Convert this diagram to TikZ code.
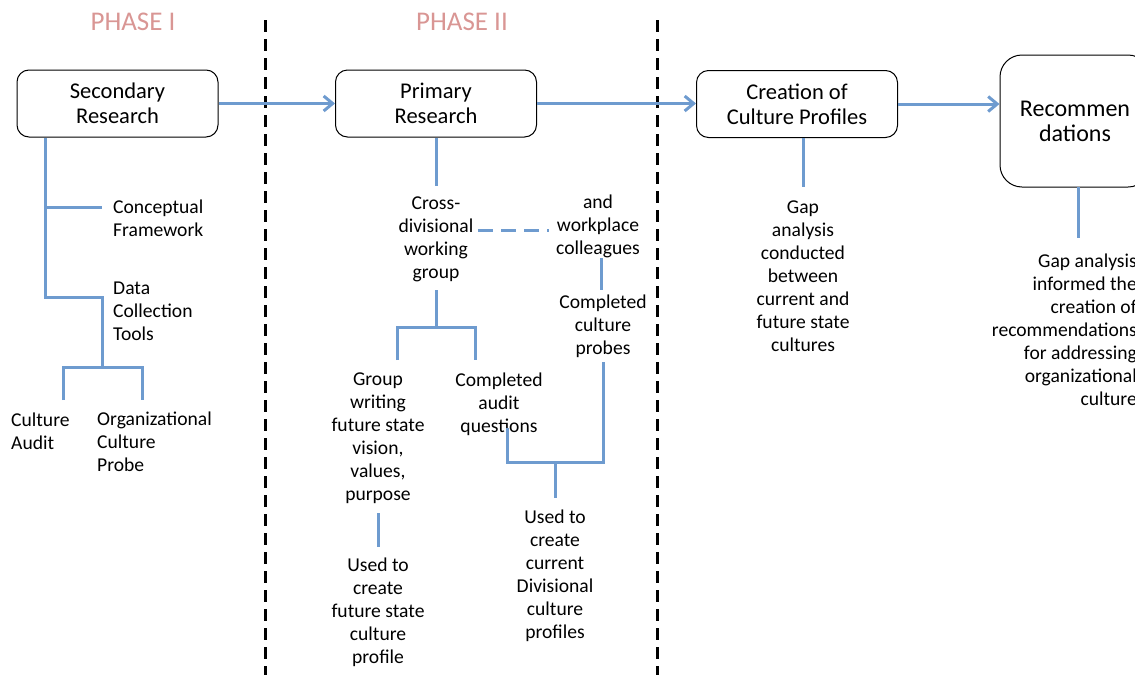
\documentclass[tikz,border=0pt]{standalone}
\usepackage{fontspec}
\setmainfont{Carlito}
\usepackage{xcolor}
\usetikzlibrary{arrows.meta,positioning}
\definecolor{linkblue}{HTML}{6E9BCF}
\definecolor{phasered}{HTML}{D99694}

\begin{document}
\begin{tikzpicture}[x=1pt,y=-1pt,
 box/.style={draw,rounded corners=12pt,line width=1pt,align=center,minimum width=201pt,minimum height=67pt,font=\fontsize{22.5}{25}\selectfont},
 lbl/.style={align=center,inner sep=0pt,font=\fontsize{19.6}{23}\selectfont},
 link/.style={linkblue,line width=3pt},
 arr/.style={link,-{Straight Barb[length=9pt,width=15pt]}},
 phase/.style={phasered,font=\fontsize{27}{30}\selectfont},
 divider/.style={black,line width=3pt,dash pattern=on 12pt off 7pt}
]
\clip (0,0) rectangle (1135,675);

% phase headings and dividers
\node[phase] (phone) at (133,22) {PHASE I};
\node[phase] (phtwo) at (462,22) {PHASE II};
\draw[divider] (265,20) -- (265,675);
\draw[divider] (657,20) -- (657,675);

% main boxes
\node[box] (secres) at (117.5,103.5) {Secondary\\Research};
\node[box] (prires) at (436,103.5) {Primary\\Research};
\node[box] (creprof) at (797,104) {Creation of\\Culture Profiles};
\node[box,rounded corners=22pt,minimum width=150pt,minimum height=132pt,font=\fontsize{24}{25}\selectfont] (recom) at (1075,121) {Recommen\\dations};

\draw[arr] (secres) -- (prires);
\draw[arr] (prires) -- (prires -| creprof.west);
\draw[arr] (creprof) -- (creprof -| recom.west);

% phase I
\node[lbl,anchor=west,align=left] (concept) at (113,218) {Conceptual\\Framework};
\node[lbl,anchor=west,align=left] (datatools) at (113,311.5) {Data\\Collection\\Tools};
\node[lbl,anchor=west,align=left] (audit) at (11,431.5) {Culture\\Audit};
\node[lbl,anchor=west,align=left] (probe) at (97,442) {Organizational\\Culture\\Probe};

\coordinate (trunk) at (45,297);
\coordinate (cbranch) at (102,207);
\coordinate (dfork) at (102,367);
\draw[link] (secres.south -| trunk) -- (trunk) -| (dfork);
\draw[link] (cbranch -| trunk) -- (cbranch);
\draw[link] (63,400) |- (dfork) -| (142,400);

% phase II
\node[lbl] (crossdiv) at (436,239) {Cross-\\divisional\\working\\group};
\node[lbl] (colleagues) at (598,226.5) {and\\workplace\\colleagues};
\node[lbl] (probes) at (603,326.5) {Completed\\culture\\probes};
\node[lbl] (groupwrite) at (378,438.5) {Group\\writing\\future state\\vision,\\values,\\purpose};
\node[lbl] (futprof) at (378,612.5) {Used to\\create\\future state\\culture\\profile};
\node[lbl] (auditq) at (499,404) {Completed\\audit\\questions};
\node[lbl] (curprof) at (555,576) {Used to\\create\\current\\Divisional\\culture\\profiles};

\draw[link] (prires.south) -- ++(0,48);
\draw[link,dash pattern=on 15pt off 8pt] (478,230) -- (549,230);
\draw[link] (601,258) -- (601,290);
\coordinate (gfork) at (436,327);
\draw[link] (436,290) -- (gfork);
\draw[link] (397,360) |- (gfork) -| (475,360);
\draw[link] (378,513) -- (378,547);
\coordinate (pjoin) at (555,462);
\draw[link] (507,428) |- (pjoin) -| (603,362);
\draw[link] (pjoin) -- (555,498);

% phase III
\node[lbl] (gapcond) at (803,276) {Gap\\analysis\\conducted\\between\\current and\\future state\\cultures};
\draw[link] (803,138) -- (803,187);
\node[lbl,align=right,anchor=east] (gapinf) at (1137,329.5) {Gap analysis\\informed the\\creation of\\recommendations\\for addressing\\organizational\\culture};
\draw[link] (1078,187) -- (1078,238);
\end{tikzpicture}
\end{document}
